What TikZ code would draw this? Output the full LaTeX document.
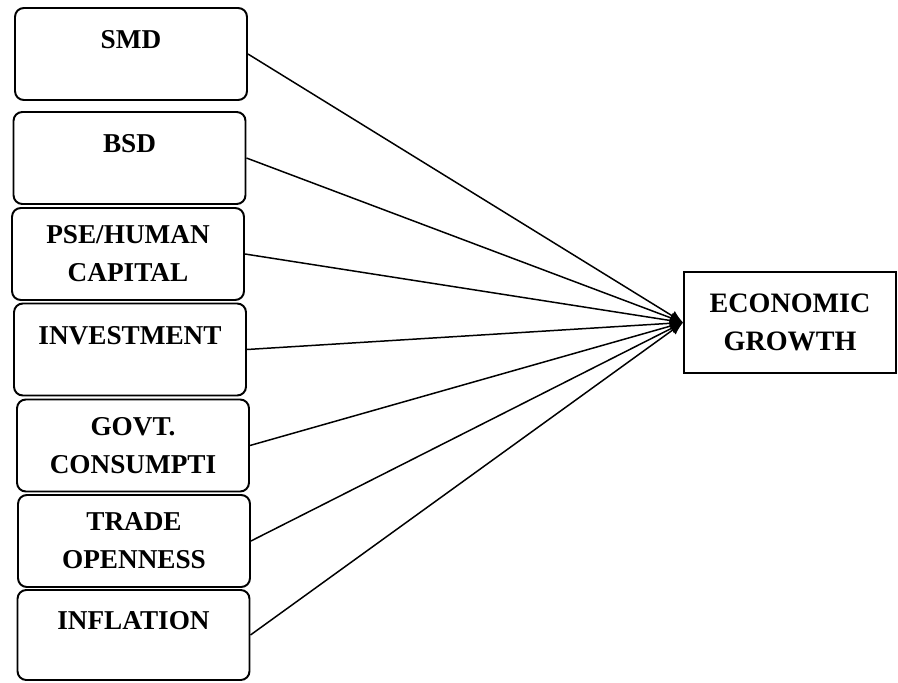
\documentclass[tikz,border=0pt]{standalone}
\usepackage{fontspec}
\setmainfont{Liberation Serif}
\usepackage{tikz}
\usetikzlibrary{arrows.meta,positioning}
\tikzset{
  linkarrow/.style={-{Latex[length=2.6mm,width=2.2mm]}, line width=0.85pt, draw=black},
  varbox/.style={rectangle, rounded corners=5pt, draw=black, fill=white, line width=1.1pt, align=center, inner sep=0pt, minimum width=4.64cm, minimum height=1.84cm, font=\fontsize{15.5}{21.5}\selectfont\bfseries},
  growthbox/.style={rectangle, draw=black, fill=white, line width=1.1pt, align=center, inner sep=0pt, minimum width=4.24cm, minimum height=2.02cm, font=\fontsize{16}{21.5}\selectfont\bfseries},
}

\begin{document}
\begin{tikzpicture}[x=0.02cm,y=-0.02cm]
\path[use as bounding box] (0,0) rectangle (898,682);

\node[varbox] (smd) at (131,54) {SMD\\[-5pt]\mbox{}};
\node[varbox] (bsd) at (129.5,158) {BSD\\[-5pt]\mbox{}};
\node[varbox] (pse) at (128,254) {PSE/HUMAN\\CAPITAL};
\node[varbox] (inv) at (130,349.5) {INVESTMENT\\[-5pt]\mbox{}};
\node[varbox] (govt) at (133,445.5) {GOVT.\\CONSUMPTI};
\node[varbox] (trade) at (134,541) {TRADE\\OPENNESS};
\node[varbox,minimum height=1.8cm] (infl) at (133.5,635) {INFLATION\\[-5pt]\mbox{}};

\node[growthbox] (growth) at (790,322.5) {ECONOMIC\\GROWTH};

\draw[linkarrow] (smd.east) -- (growth.west);
\draw[linkarrow] (bsd.east) -- (growth.west);
\draw[linkarrow] (pse.east) -- (growth.west);
\draw[linkarrow] (inv.east) -- (growth.west);
\draw[linkarrow] (govt.east) -- (growth.west);
\draw[linkarrow] (trade.east) -- (growth.west);
\draw[linkarrow] (infl.east) -- (growth.west);
\end{tikzpicture}
\end{document}
